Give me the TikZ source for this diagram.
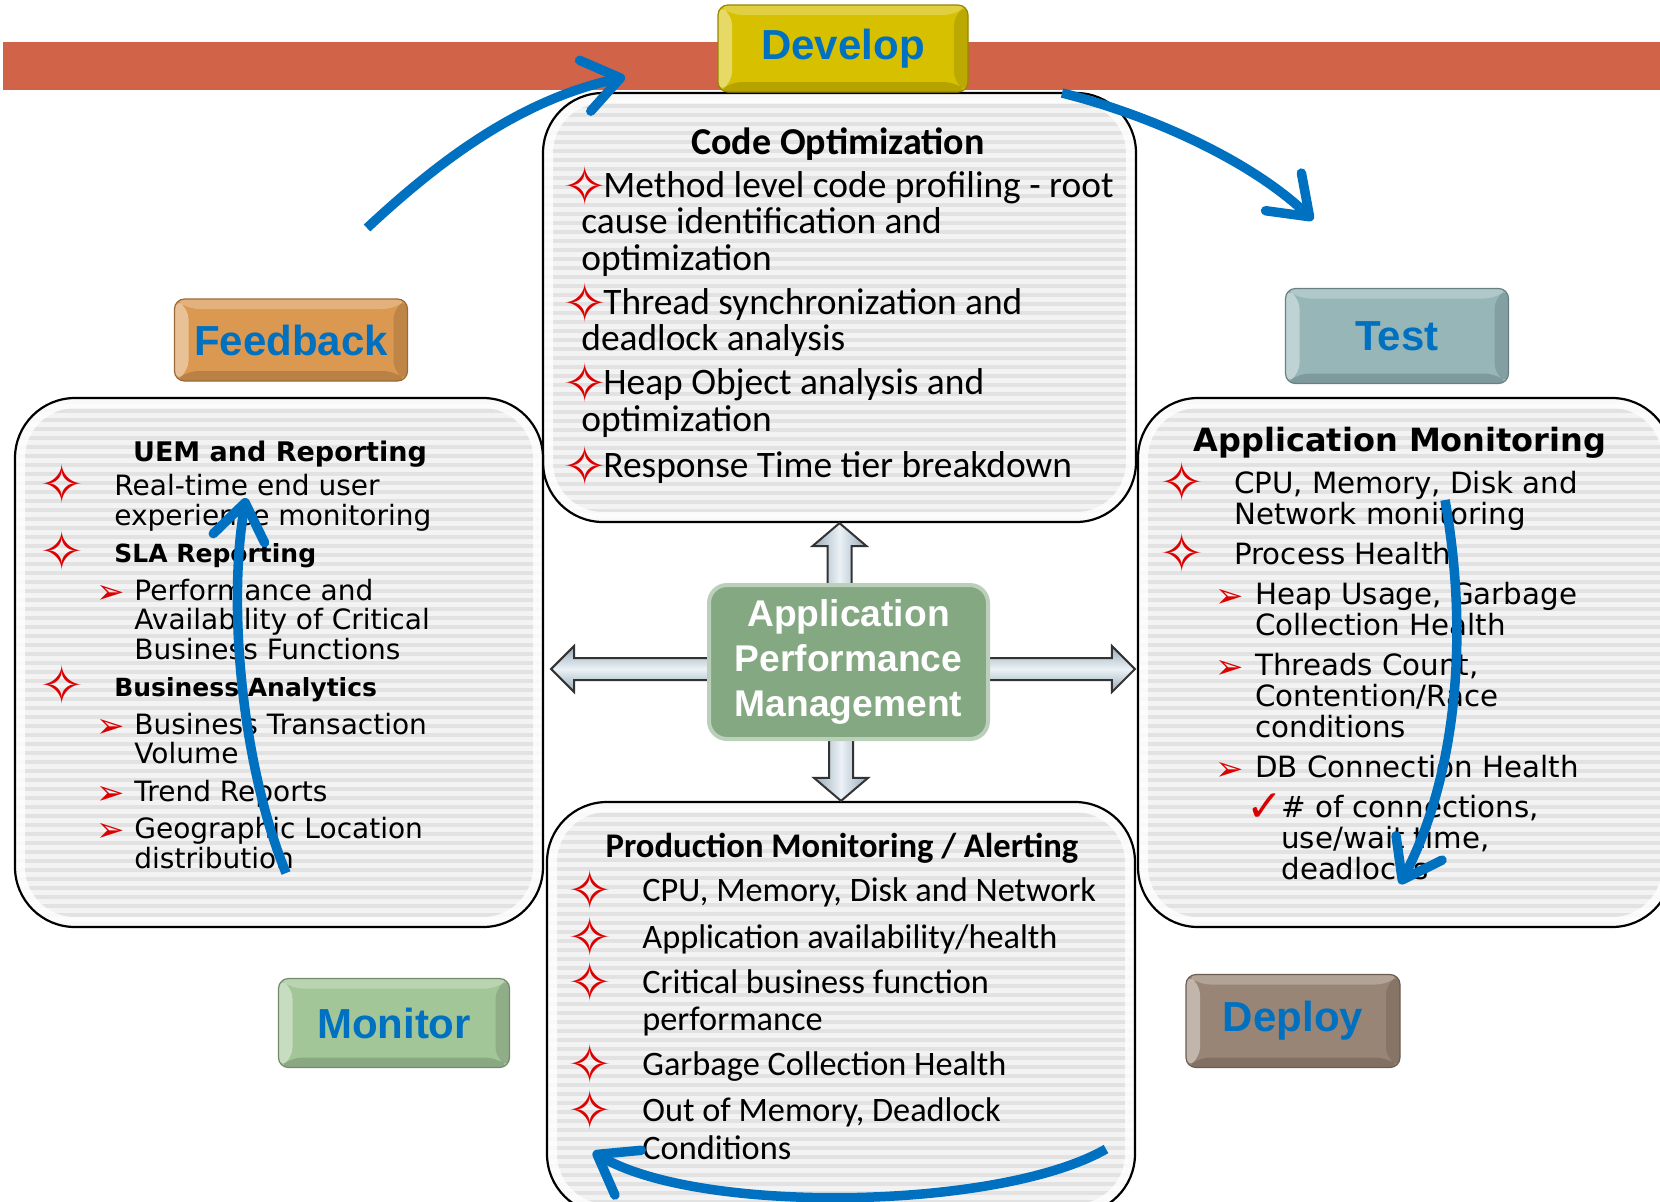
\documentclass[tikz,border=0pt]{standalone}
\usepackage{fontspec}
\usepackage{xcolor}
\usetikzlibrary{arrows.meta,shapes,calc}
\setmainfont{Carlito}
\newfontfamily\calibri{Carlito}
\newfontfamily\verdana{DejaVu Sans}
\newfontfamily\arial{Liberation Sans}

\definecolor{bandred}{RGB}{209,99,73}
\definecolor{titleblue}{RGB}{0,112,192}
\definecolor{devyellow}{RGB}{214,192,0}
\definecolor{fbkorange}{RGB}{218,152,80}
\definecolor{testteal}{RGB}{150,182,184}
\definecolor{mongreen}{RGB}{163,198,153}
\definecolor{deptaupe}{RGB}{153,133,117}
\definecolor{apmgreen}{RGB}{132,168,130}
\definecolor{bulletred}{RGB}{220,0,0}
\definecolor{boxgray}{RGB}{243,243,243}
\definecolor{stripegray}{RGB}{226,226,226}
\definecolor{steeldark}{RGB}{150,170,185}
\definecolor{steellight}{RGB}{236,242,246}

\newcommand{\starb}{\smash{\kern-3pt\raisebox{-4.2pt}{\verdana\color{bulletred}\fontsize{27}{27}\selectfont ✧}}}
\newcommand{\arrb}{\smash{\kern-2pt\raisebox{-1.5pt}{\verdana\color{bulletred}\fontsize{17}{17}\selectfont ➢}}}
\newcommand{\tickb}{\smash{\raisebox{-2pt}{\verdana\color{bulletred}\fontsize{22}{22}\selectfont ✓}}}

\begin{document}
\begin{tikzpicture}[x=0.5pt, y=-0.5pt,
  panel/.style={draw=black, line width=1.1pt, rounded corners=30pt, fill=boxgray,
    path picture={
      \foreach \k in {0,...,62}
        \draw[stripegray, line width=1.9pt] ([yshift=-\k*4.5pt-2pt]path picture bounding box.north west) -- ([yshift=-\k*4.5pt-2pt]path picture bounding box.north east);
      \draw[white, opacity=.8, line width=10pt, rounded corners=30pt] (path picture bounding box.south west) rectangle (path picture bounding box.north east);
    }},
  button/.style={rounded corners=5pt, fill=#1, draw=#1!70!black, line width=.6pt,
    text=titleblue, font=\arial\bfseries\fontsize{21}{24}\selectfont,
    path picture={
      \fill[white, opacity=.25] (path picture bounding box.north west) -- (path picture bounding box.north east) -- ([shift={(-7pt,-5pt)}]path picture bounding box.north east) -- ([shift={(7pt,-5pt)}]path picture bounding box.north west) -- cycle;
      \fill[black, opacity=.15] (path picture bounding box.south west) -- (path picture bounding box.south east) -- ([shift={(-7pt,5pt)}]path picture bounding box.south east) -- ([shift={(7pt,5pt)}]path picture bounding box.south west) -- cycle;
      \fill[white, opacity=.4] (path picture bounding box.north west) -- ([shift={(7pt,-5pt)}]path picture bounding box.north west) -- ([shift={(7pt,5pt)}]path picture bounding box.south west) -- (path picture bounding box.south west) -- cycle;
      \fill[black, opacity=.12] (path picture bounding box.north east) -- ([shift={(-7pt,-5pt)}]path picture bounding box.north east) -- ([shift={(-7pt,5pt)}]path picture bounding box.south east) -- (path picture bounding box.south east) -- cycle;
    }},
  blockv/.style={draw=black!80, line width=1pt, left color=steeldark, right color=steeldark, middle color=steellight},
  blockh/.style={draw=black!80, line width=1pt, top color=steeldark, bottom color=steeldark, middle color=steellight},
  cyclearrow/.style={draw=titleblue, line width=4.75pt, -{Straight Barb[length=18pt,width=26pt,round]}},
  boxtitle/.style={anchor=base, inner sep=0},
  boxtext/.style={anchor=base west, inner sep=0, align=left}]

\useasboundingbox (0,0) rectangle (1660,1201);
\fill[white] (0,0) rectangle (1660,1201);

\fill[bandred] (3,42) rectangle (1660,90);

\node[panel, minimum width=296.5pt, minimum height=214.5pt] (code) at (839.5,307.5) {};
\node[panel, minimum width=264pt, minimum height=264.5pt] (uem) at (279,662.5) {};
\node[panel, minimum width=267pt, minimum height=264.5pt] (app) at (1405,662.5) {};
\node[panel, minimum width=294pt, minimum height=206pt] (prod) at (841,1008) {};

\node[button=devyellow, minimum width=125pt, minimum height=43.5pt] (develop) at (843,48.5) {Develop};
\node[button=fbkorange, minimum width=116.5pt, minimum height=41pt] (feedback) at (291,340) {Feedback};
\node[button=testteal, minimum width=111.5pt, minimum height=47.5pt] (test) at (1397,336) {Test};
\node[button=mongreen, minimum width=115.5pt, minimum height=44.5pt] (monitor) at (394,1023) {Monitor};
\node[button=deptaupe, minimum width=107pt, minimum height=46.5pt] (deploy) at (1293,1021) {Deploy};

\node[boxtitle, font=\calibri\bfseries\fontsize{19}{22}\selectfont] (codeTitle) at (838,154) {Code Optimization};
\node[boxtext, font=\calibri\fontsize{18.7}{18.25}\selectfont] (codeText) at (568,477)
  {\makebox[17.5pt][l]{\starb}Method level code profiling - root\\
   \hspace*{6.5pt}cause identification and\\
   \hspace*{6.5pt}optimization\\[3.75pt]
   \makebox[17.5pt][l]{\starb}Thread synchronization and\\
   \hspace*{6.5pt}deadlock analysis\\[3.75pt]
   \makebox[17.5pt][l]{\starb}Heap Object analysis and\\
   \hspace*{6.5pt}optimization\\[4.75pt]
   \makebox[17.5pt][l]{\starb}Response Time tier breakdown};

\node[boxtitle, font=\verdana\bfseries\fontsize{13.5}{15}\selectfont] (uemTitle) at (280,461) {UEM and Reporting};
\node[boxtext, font=\verdana\fontsize{14}{14.75}\selectfont] (uemText) at (45,868)
  {\makebox[34.5pt][l]{\starb}Real-time end user\\
   \hspace*{34.5pt}experience monitoring\\[4pt]
   \makebox[34.5pt][l]{\starb}{\bfseries\fontsize{12.5}{14.75}\selectfont SLA Reporting}\\[4pt]
   \hspace*{27.5pt}\makebox[17pt][l]{\arrb}Performance and\\
   \hspace*{44.5pt}Availability of Critical\\
   \hspace*{44.5pt}Business Functions\\[4pt]
   \makebox[34.5pt][l]{\starb}{\bfseries\fontsize{12.5}{14.75}\selectfont Business Analytics}\\[4pt]
   \hspace*{27.5pt}\makebox[17pt][l]{\arrb}Business Transaction\\
   \hspace*{44.5pt}Volume\\[4pt]
   \hspace*{27.5pt}\makebox[17pt][l]{\arrb}Trend Reports\\[4pt]
   \hspace*{27.5pt}\makebox[17pt][l]{\arrb}Geographic Location\\
   \hspace*{44.5pt}distribution};

\node[boxtitle, font=\verdana\bfseries\fontsize{16}{18}\selectfont] (appTitle) at (1400,451) {Application Monitoring};
\node[boxtext, font=\verdana\fontsize{14.65}{15.5}\selectfont] (appText) at (1165,879)
  {\makebox[34.5pt][l]{\starb}CPU, Memory, Disk and\\
   \hspace*{34.5pt}Network monitoring\\[4.5pt]
   \makebox[34.5pt][l]{\starb}Process Health\\[4.5pt]
   \hspace*{27pt}\makebox[18pt][l]{\arrb}Heap Usage, Garbage\\
   \hspace*{45pt}Collection Health\\[4.5pt]
   \hspace*{27pt}\makebox[18pt][l]{\arrb}Threads Count,\\
   \hspace*{45pt}Contention/Race\\
   \hspace*{45pt}conditions\\[4.5pt]
   \hspace*{27pt}\makebox[18pt][l]{\arrb}DB Connection Health\\[4.5pt]
   \hspace*{40.5pt}\makebox[17.5pt][l]{\tickb}\# of connections,\\
   \hspace*{58pt}use/wait time,\\
   \hspace*{58pt}deadlocks};

\node[boxtitle, font=\calibri\bfseries\fontsize{17.3}{20}\selectfont] (prodTitle) at (842,857) {Production Monitoring / Alerting};
\node[boxtext, font=\calibri\fontsize{17.15}{18.75}\selectfont] (prodText) at (573,1159)
  {\makebox[34.5pt][l]{\starb}CPU, Memory, Disk and Network\\[4.75pt]
   \makebox[34.5pt][l]{\starb}Application availability/health\\[3.75pt]
   \makebox[34.5pt][l]{\starb}Critical business function\\
   \hspace*{34.5pt}performance\\[3.75pt]
   \makebox[34.5pt][l]{\starb}Garbage Collection Health\\[4.25pt]
   \makebox[34.5pt][l]{\starb}Out of Memory, Deadlock\\
   \hspace*{34.5pt}Conditions};

\draw[blockv] (code.south) -- ++(27,23) -- ++(-15,0) -- ++(0,41) -- ++(-24,0) -- ++(0,-41) -- ++(-15,0) -- cycle;
\draw[blockv] (prod.north) -- ++(27,-23) -- ++(-15,0) -- ++(0,-41) -- ++(-24,0) -- ++(0,41) -- ++(-15,0) -- cycle;
\draw[blockh] ([shift={(3.5pt,-3.25pt)}]uem.east) -- ++(23,-23) -- ++(0,12) -- ++(140,0) -- ++(0,22) -- ++(-140,0) -- ++(0,12) -- cycle;
\draw[blockh] ([shift={(-1pt,-3.25pt)}]app.west) -- ++(-23,-23) -- ++(0,12) -- ++(-150,0) -- ++(0,22) -- ++(150,0) -- ++(0,12) -- cycle;

\node[rounded corners=9pt, fill=apmgreen, draw=apmgreen!55!white, line width=2pt,
  minimum width=139.5pt, minimum height=77pt, align=center, text=white,
  font=\arial\bfseries\fontsize{18.6}{22.5}\selectfont] (apm) at (848.5,662)
  {Application\\Performance\\Management};

\coordinate (fbStart) at (367,228);
\coordinate (devEnd) at (625,77);
\coordinate (devStart) at (1062,93);
\coordinate (testEnd) at (1313,220);
\coordinate (testStart) at (1445,500);
\coordinate (deployEnd) at (1400,884);
\coordinate (deployStart) at (1106,1149);
\coordinate (monEnd) at (593,1152);
\coordinate (monStart) at (286,873);
\coordinate (fbEnd) at (246,498);

\draw[cyclearrow] (fbStart) .. controls (440,160) and (520,100) .. (devEnd);
\draw[cyclearrow] (devStart) .. controls (1150,115) and (1250,160) .. (testEnd);
\draw[cyclearrow] (testStart) .. controls (1470,640) and (1455,780) .. (deployEnd);
\draw[cyclearrow] (deployStart) .. controls (1000,1210) and (700,1215) .. (monEnd);
\draw[cyclearrow] (monStart) .. controls (240,760) and (228,600) .. (fbEnd);
\end{tikzpicture}
\end{document}
